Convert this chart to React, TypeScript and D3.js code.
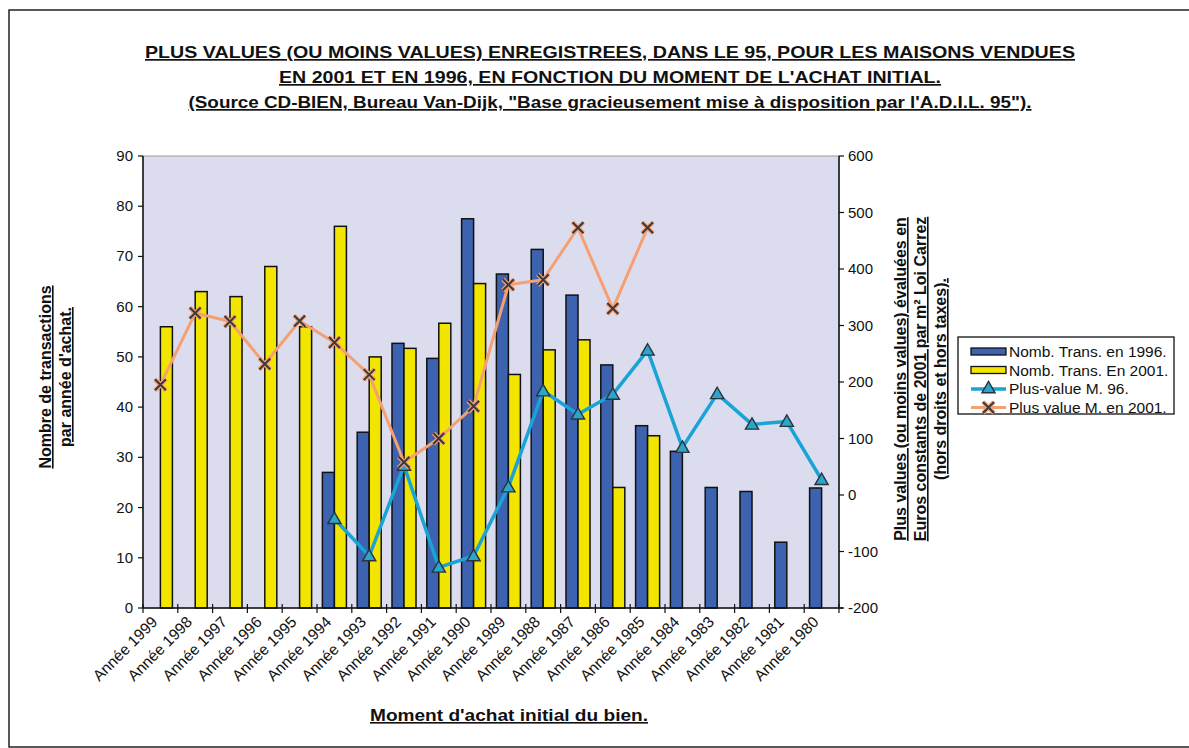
import React from "react";
import * as d3 from "d3";

const categories = [
  "Année 1999", "Année 1998", "Année 1997", "Année 1996", "Année 1995",
  "Année 1994", "Année 1993", "Année 1992", "Année 1991", "Année 1990",
  "Année 1989", "Année 1988", "Année 1987", "Année 1986", "Année 1985",
  "Année 1984", "Année 1983", "Année 1982", "Année 1981", "Année 1980",
];
const trans1996: (number | null)[] = [
  null, null, null, null, null,
  27, 35, 52.7, 49.7, 77.5,
  66.5, 71.4, 62.3, 48.4, 36.3,
  31.2, 24, 23.2, 13.1, 23.9,
];
const trans2001: (number | null)[] = [
  56, 63, 62, 68, 56,
  76, 50, 51.7, 56.7, 64.6,
  46.5, 51.4, 53.4, 24, 34.3,
  null, null, null, null, null,
];
const plusValue96: (number | null)[] = [
  null, null, null, null, null,
  -42, -108, 52, -128, -108,
  14, 184, 143, 178, 256,
  84, 179, 125, 130, 27,
];
const plusValue2001: (number | null)[] = [
  195, 322, 307, 232, 308,
  270, 213, 58, 100, 157,
  372, 381, 473, 330, 473,
  null, null, null, null, null,
];
const leftTicks = [0, 10, 20, 30, 40, 50, 60, 70, 80, 90];
const rightTicks = [-200, -100, 0, 100, 200, 300, 400, 500, 600];
const legendLabels = [
  "Nomb. Trans. en 1996.",
  "Nomb. Trans. En 2001.",
  "Plus-value M. 96.",
  "Plus value M. en 2001.",
];
const titleLines = [
  "PLUS VALUES (OU MOINS VALUES) ENREGISTREES, DANS LE 95, POUR LES MAISONS VENDUES",
  "EN 2001 ET EN 1996, EN FONCTION DU MOMENT DE L'ACHAT INITIAL.",
  "(Source CD-BIEN, Bureau Van-Dijk, \"Base gracieusement mise à disposition par l'A.D.I.L. 95\").",
];
const leftTitle = ["Nombre de transactions", "par année d'achat."];
const rightTitle = [
  "Plus values (ou moins values) évaluées en",
  "Euros constants de 2001 par m² Loi Carrez",
  "(hors droits et hors taxes).",
];
const xTitle = "Moment d'achat initial du bien.";

const BLUE = "#3d62b0";
const YELLOW = "#f2e600";
const CYAN = "#19a3d6";
const ORANGE = "#f5a073";
const BG = "#dcdcef";
const FONT = "'Liberation Sans', Arial, sans-serif";

const L = 143, R = 839, T = 156, B = 608;

export default function App() {
  const x = d3.scaleBand<string>().domain(categories).range([L, R]).padding(0);
  const bw = x.bandwidth();
  const x1 = d3.scaleBand<string>().domain(["96", "01"]).range([bw * 0.155, bw * 0.845]).padding(0);
  const yL = d3.scaleLinear().domain([0, 90]).range([B, T]);
  const yR = d3.scaleLinear().domain([-200, 600]).range([B, T]);
  const cx = (c: string) => (x(c) as number) + bw / 2;

  const lineGen = d3
    .line<{ c: string; v: number | null }>()
    .defined((d) => d.v !== null)
    .x((d) => cx(d.c))
    .y((d) => yR(d.v as number));

  const pv96 = categories.map((c, i) => ({ c, v: plusValue96[i] }));
  const pv01 = categories.map((c, i) => ({ c, v: plusValue2001[i] }));

  const tri = d3.symbol().type(d3.symbolTriangle).size(75)() as string;

  const xMark = (px: number, py: number, key: string) => (
    <g key={key} transform={`translate(${px},${py})`}>
      <path d="M-5.5,-5.5L5.5,5.5M-5.5,5.5L5.5,-5.5" stroke={ORANGE} strokeWidth={4.5} />
      <path d="M-5.5,-5.5L5.5,5.5M-5.5,5.5L5.5,-5.5" stroke="#3a3a3a" strokeWidth={2} />
    </g>
  );
  const triMark = (px: number, py: number, key: string) => (
    <path key={key} d={tri} transform={`translate(${px},${py + 1})`} fill="#2aa6c8" stroke="#2b3340" strokeWidth={1.4} />
  );

  const legendX = 958, legendY = 337;

  return (
    <svg width={1189} height={748} style={{ position: "absolute", left: 0, top: 0, background: "#fff" }} fontFamily={FONT}>
      <rect x={9} y={10} width={1200} height={737} fill="none" stroke="#222" strokeWidth={1.5} />
      {titleLines.map((t, i) => (
        <text key={t} x={610} y={58 + i * 25} textAnchor="middle" fontSize={17} fontWeight="bold"
          textDecoration="underline" fill="#111"
          textLength={[930, 662, 843][i]} lengthAdjust="spacingAndGlyphs">
          {t}
        </text>
      ))}
      <rect x={L} y={T} width={R - L} height={B - T} fill={BG} stroke="#999" strokeWidth={1} />
      {categories.map((c, i) => (
        <g key={c}>
          {trans1996[i] !== null && (
            <rect x={(x(c) as number) + (x1("96") as number)} y={yL(trans1996[i] as number)}
              width={x1.bandwidth()} height={B - yL(trans1996[i] as number)}
              fill={BLUE} stroke="#111" strokeWidth={1.5} />
          )}
          {trans2001[i] !== null && (
            <rect x={(x(c) as number) + (x1("01") as number)} y={yL(trans2001[i] as number)}
              width={x1.bandwidth()} height={B - yL(trans2001[i] as number)}
              fill={YELLOW} stroke="#111" strokeWidth={1.5} />
          )}
        </g>
      ))}
      <path d={lineGen(pv96) as string} fill="none" stroke={CYAN} strokeWidth={3.5} strokeLinejoin="round" />
      <path d={lineGen(pv01) as string} fill="none" stroke={ORANGE} strokeWidth={3} strokeLinejoin="round" />
      {pv96.filter((d) => d.v !== null).map((d) => triMark(cx(d.c), yR(d.v as number), "t" + d.c))}
      {pv01.filter((d) => d.v !== null).map((d) => xMark(cx(d.c), yR(d.v as number), "x" + d.c))}

      {/* axes */}
      <line x1={L} x2={L} y1={T} y2={B} stroke="#111" strokeWidth={1.5} />
      <line x1={R} x2={R} y1={T} y2={B} stroke="#111" strokeWidth={1.5} />
      <line x1={L} x2={R + 4} y1={B} y2={B} stroke="#111" strokeWidth={1.5} />
      {leftTicks.map((t) => (
        <g key={"l" + t}>
          <line x1={L - 5} x2={L} y1={yL(t)} y2={yL(t)} stroke="#111" strokeWidth={1.2} />
          <text x={L - 10} y={yL(t) + 5} textAnchor="end" fontSize={15} fill="#111">{t}</text>
        </g>
      ))}
      {rightTicks.map((t) => (
        <g key={"r" + t}>
          <line x1={R} x2={R + 5} y1={yR(t)} y2={yR(t)} stroke="#111" strokeWidth={1.2} />
          <text x={R + 9} y={yR(t) + 5} textAnchor="start" fontSize={15} fill="#111">{t}</text>
        </g>
      ))}
      {categories.map((c) => (
        <line key={"xt" + c} x1={x(c) as number} x2={x(c) as number} y1={B - 4} y2={B + 5} stroke="#111" strokeWidth={1.2} />
      ))}
      <line x1={R} x2={R} y1={B - 4} y2={B + 5} stroke="#111" strokeWidth={1.2} />
      {categories.map((c) => (
        <text key={"xl" + c} transform={`translate(${cx(c) - 2},${B + 15}) rotate(-45)`} textAnchor="end"
          fontSize={15.5} fill="#111">{c}</text>
      ))}

      {/* axis titles */}
      {leftTitle.map((t, i) => (
        <text key={t} transform={`translate(${51 + i * 20},377) rotate(-90)`} textAnchor="middle"
          fontSize={16} fontWeight="bold" textDecoration="underline" fill="#111">{t}</text>
      ))}
      {rightTitle.map((t, i) => (
        <text key={t} transform={`translate(${906 + i * 20},379) rotate(-90)`} textAnchor="middle"
          fontSize={16} fontWeight="bold" textDecoration="underline" fill="#111">{t}</text>
      ))}
      <text x={509} y={721} textAnchor="middle" fontSize={16} fontWeight="bold" textDecoration="underline" fill="#111"
        textLength={278} lengthAdjust="spacingAndGlyphs">{xTitle}</text>

      {/* legend */}
      <rect x={legendX} y={legendY} width={216} height={77} fill="#fff" stroke="#111" strokeWidth={1.3} />
      {legendLabels.map((t, i) => {
        const ry = legendY + 15 + i * 18.5;
        return (
          <g key={t}>
            {i === 0 && <rect x={legendX + 13} y={ry - 4} width={35} height={7} fill={BLUE} stroke="#111" strokeWidth={1.3} />}
            {i === 1 && <rect x={legendX + 13} y={ry - 4} width={35} height={7} fill={YELLOW} stroke="#111" strokeWidth={1.3} />}
            {i === 2 && (
              <g>
                <line x1={legendX + 13} x2={legendX + 48} y1={ry} y2={ry} stroke={CYAN} strokeWidth={3.5} />
                {triMark(legendX + 30.5, ry - 1, "lt")}
              </g>
            )}
            {i === 3 && (
              <g>
                <line x1={legendX + 13} x2={legendX + 48} y1={ry} y2={ry} stroke={ORANGE} strokeWidth={3} />
                {xMark(legendX + 30.5, ry, "lx")}
              </g>
            )}
            <text x={legendX + 51} y={ry + 5} fontSize={15.5} fill="#111">{t}</text>
          </g>
        );
      })}
    </svg>
  );
}
